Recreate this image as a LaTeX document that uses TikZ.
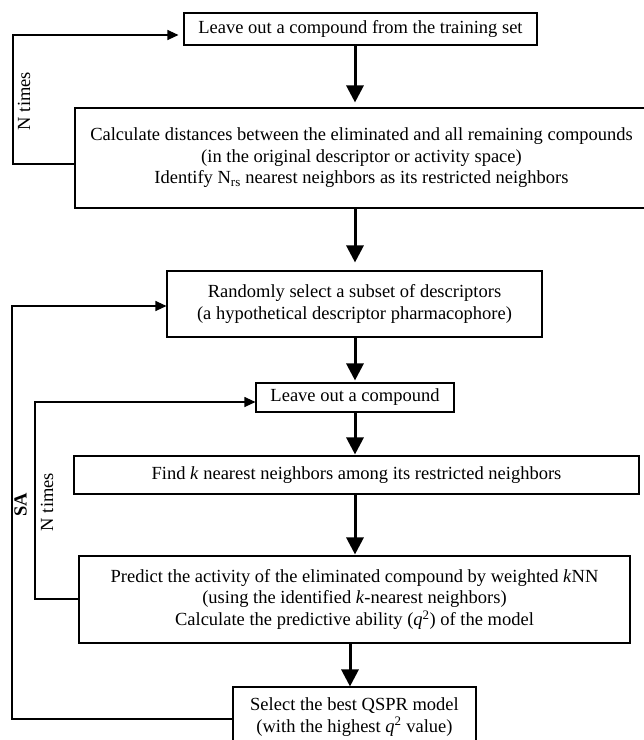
\documentclass[tikz,border=0pt]{standalone}
\usepackage{fontspec}
\setmainfont{Liberation Serif}
\usetikzlibrary{arrows.meta}
\newcommand{\liftlines}[2]{\raisebox{#1}{\begin{tabular}{@{}c@{}}#2\end{tabular}}}
\begin{document}
\begin{tikzpicture}[x=1pt,y=-1pt,
  box/.style={draw,line width=1.1pt,inner sep=0pt,align=center,
    font=\fontsize{18.5}{21.5}\selectfont},
  bigarrow/.style={line width=3pt,-{Triangle[length=17pt,width=17pt]}},
  looparrow/.style={line width=1.1pt,-{Triangle[length=11pt,width=10pt]}},
  looplabel/.style={rotate=90,font=\fontsize{18.5}{21.5}\selectfont,inner sep=0pt}]
\useasboundingbox (0,0) rectangle (644,740);
\node[box,minimum width=353pt,minimum height=32pt] (box1) at (360.5,29)
  {Leave out a compound from the training set};
\node[box,minimum width=573pt,minimum height=100pt] (box2) at (361.5,158)
  {\liftlines{-2pt}{Calculate distances between the eliminated and all remaining compounds\\
   (in the original descriptor or activity space)\\
   Identify N\textsubscript{rs} nearest neighbors as its restricted neighbors}};
\node[box,minimum width=375pt,minimum height=66pt] (box3) at (354.5,304)
  {Randomly select a subset of descriptors\\(a hypothetical descriptor pharmacophore)};
\node[box,minimum width=198pt,minimum height=29pt] (box4) at (355,397.5)
  {Leave out a compound};
\node[box,minimum width=565pt,minimum height=38pt] (box5) at (356.5,475)
  {Find \textit{k} nearest neighbors among its restricted neighbors};
\node[box,minimum width=551pt,minimum height=87pt] (box6) at (354.5,599.5)
  {\liftlines{5pt}{Predict the activity of the eliminated compound by weighted \textit{k}NN\\
   (using the identified \textit{k}-nearest neighbors)\\
   Calculate the predictive ability (\textit{q}\textsuperscript{2}) of the model}};
\node[box,minimum width=243pt,minimum height=60pt] (box7) at (354.5,717)
  {\liftlines{2pt}{Select the best QSPR model\\(with the highest \textit{q}\textsuperscript{2} value)}};
% main flow
\coordinate (ax) at (355,0);
\coordinate (bx) at (350,0);
\draw[bigarrow,shorten >=5pt] (box1.south -| ax) -- (box2.north -| ax);
\draw[bigarrow,shorten >=8pt] (box2.south -| ax) -- (box3.north -| ax);
\draw[bigarrow,shorten >=2pt] (box3.south -| ax) -- (box4.north -| ax);
\draw[bigarrow,shorten >=1pt] (box4.south -| ax) -- (box5.north -| ax);
\draw[bigarrow,shorten >=1pt] (box5.south -| ax) -- (box6.north -| ax);
\draw[bigarrow] (box6.south -| bx) -- (box7.north -| bx);
% outer N times loop
\coordinate (l1a) at (13,164);
\coordinate (l1b) at (13,35);
\draw[looparrow,shorten >=5pt] (box2.west |- l1a) -- (l1a) -- (l1b) -- (box1.west |- l1b);
\node[looplabel] (nt1) at (24,101) {N times};
% SA loop
\coordinate (sa) at (12,719);
\coordinate (sb) at (12,306);
\draw[looparrow] (box7.west |- sa) -- (sa) -- (sb) -- (box3.west |- sb);
\node[looplabel,font=\fontsize{18.5}{21.5}\selectfont\bfseries] (salabel) at (20.5,505) {SA};
% inner N times loop
\coordinate (ia) at (35,599);
\coordinate (ib) at (35,402);
\draw[looparrow] (box6.west |- ia) -- (ia) -- (ib) -- (box4.west |- ib);
\node[looplabel] (nt2) at (47,502) {N times};
\end{tikzpicture}
\end{document}
